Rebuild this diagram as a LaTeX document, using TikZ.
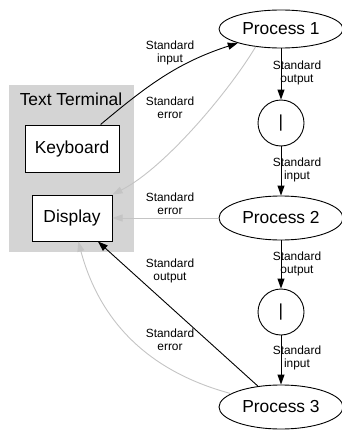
\documentclass[tikz,border=0pt]{standalone}
\usepackage{fontspec}
\setmainfont{Liberation Sans}
\usetikzlibrary{shapes.geometric,arrows.meta}
\definecolor{termgray}{RGB}{212,212,212}
\definecolor{edgegray}{RGB}{196,196,196}
\begin{document}
\begin{tikzpicture}[x=1pt,y=1pt,
  bigfont/.style={font=\fontsize{17.4}{19}\selectfont},
  proc/.style={ellipse,draw,line width=0.9pt,minimum width=124pt,inner sep=0pt,bigfont},
  pipe/.style={circle,draw,line width=0.9pt,minimum size=46pt,inner sep=0pt,bigfont},
  termbox/.style={rectangle,draw,line width=1pt,fill=white,inner sep=0pt,bigfont},
  lbl/.style={align=center,inner sep=0pt,font=\fontsize{11.9}{13.2}\selectfont},
  blk/.style={line width=0.9pt,-{Triangle[length=10pt,width=7pt]}},
  gry/.style={line width=0.9pt,draw=edgegray,-{Triangle[length=10pt,width=7pt,fill=edgegray]}}
]
\useasboundingbox (0,0) rectangle (342,-431);
% terminal frame
\node[fill=termgray,minimum width=125pt,minimum height=167pt,inner sep=0pt] (term) at (71.5,-168.5) {};
\node[bigfont,inner sep=0pt] (termtitle) at (71,-99) {Text Terminal};
\node[termbox,minimum width=94pt,minimum height=47pt] (kbd) at (72,-148.5) {Keyboard};
\node[termbox,minimum width=80pt,minimum height=46pt] (disp) at (72,-218) {Display};
% processes
\node[proc,minimum height=38pt] (p1) at (281,-29) {Process 1};
\node[pipe] (pipe1) at (281,-123) {|};
\node[proc,minimum height=44pt] (p2) at (281,-218) {Process 2};
\node[pipe] (pipe2) at (281,-312) {|};
\node[proc,minimum height=44pt] (p3) at (281,-407) {Process 3};
% gray edges
\draw[gry] (p1.215) .. controls (230,-90) and (165,-168) .. (disp.north east);
\draw[gry] (p2) -- (disp);
\draw[gry] (p3) to[out=165,in=285] (disp);
% black edges
\draw[blk] (kbd) to[out=40,in=198] (p1);
\draw[blk] (p3) -- (disp);
\draw[blk] (p1) -- (pipe1);
\draw[blk] (pipe1) -- (p2);
\draw[blk] (p2) -- (pipe2);
\draw[blk] (pipe2) -- (p3);
% labels
\node[lbl] (l1) at (170,-53) {Standard\\input};
\node[lbl] (l2) at (170,-108) {Standard\\error};
\node[lbl] (l3) at (170,-204) {Standard\\error};
\node[lbl] (l4) at (170,-271) {Standard\\output};
\node[lbl] (l5) at (170,-340) {Standard\\error};
\node[lbl] (v1) at (297,-73) {Standard\\output};
\node[lbl] (v2) at (297,-170) {Standard\\input};
\node[lbl] (v3) at (297,-264) {Standard\\output};
\node[lbl] (v4) at (297,-358) {Standard\\input};
\end{tikzpicture}
\end{document}
